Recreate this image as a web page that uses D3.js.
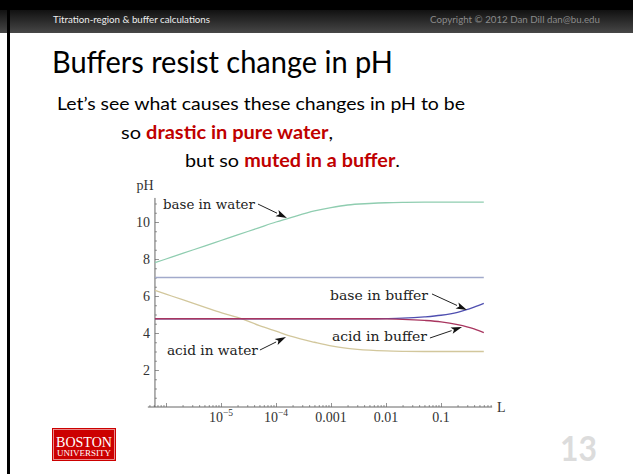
<!DOCTYPE html>
<html><head><meta charset="utf-8">
<script src="https://cdn.jsdelivr.net/npm/d3@7"></script>
<style>html,body{margin:0;padding:0;background:#fff;overflow:hidden}</style>
</head><body>
<svg id="c" width="633" height="474" xmlns="http://www.w3.org/2000/svg"></svg>
<script>
// ---- data ----
const volumes      = [6.3e-7, 1e-6, 2e-6, 5e-6, 1e-5, 2e-5, 5e-5, 1e-4, 2e-4, 5e-4, 1e-3, 2e-3, 5e-3, 1e-2, 2e-2, 5e-2, 0.1, 0.2, 0.4, 0.6];
const baseInWater  = [7.8, 8.0, 8.3, 8.7, 9.0, 9.3, 9.7, 10.0, 10.27, 10.6, 10.78, 10.92, 11.0, 11.04, 11.06, 11.07, 11.07, 11.07, 11.07, 11.07];
const acidInWater  = [6.3, 6.1, 5.8, 5.4, 5.1, 4.85, 4.4, 4.1, 3.8, 3.5, 3.3, 3.17, 3.07, 3.03, 3.01, 3.0, 3.0, 3.0, 3.0, 3.0];
const baseInBuffer = [4.77, 4.77, 4.77, 4.77, 4.77, 4.77, 4.77, 4.77, 4.77, 4.77, 4.77, 4.77, 4.77, 4.78, 4.80, 4.87, 4.96, 5.12, 5.40, 5.60];
const acidInBuffer = [4.77, 4.77, 4.77, 4.77, 4.77, 4.77, 4.77, 4.77, 4.77, 4.77, 4.77, 4.77, 4.77, 4.76, 4.74, 4.68, 4.60, 4.45, 4.22, 4.02];
const neutralPH    = [7, 7];
const neutralVols  = [6.3e-7, 0.6];
const yTickValues  = [2, 4, 6, 8, 10];
const xLabelValues = [1e-5, 1e-4, 1e-3, 1e-2, 0.1];
const xTickLabels  = [["10", "\u22125"], ["10", "\u22124"], ["0.001"], ["0.01"], ["0.1"]];
const annotations = [
  {text: "base in water",  L: 8.8e-7, pH: 10.7, L0: 4.7e-5, pH0: 10.97, L1: 1.58e-4, pH1: 10.22, w: 92},
  {text: "base in buffer", L: 9.6e-4, pH: 5.78, L0: 0.0686, pH0: 6.11,  L1: 0.297,   pH1: 5.24,  w: 98},
  {text: "acid in buffer", L: 1.04e-3, pH: 3.57, L0: 0.063, pH0: 3.73,  L1: 0.241,   pH1: 4.32,  w: 95},
  {text: "acid in water",  L: 1.04e-6, pH: 2.81, L0: 5.1e-5, pH0: 3.08, L1: 1.52e-4, pH1: 3.78,  w: 91}
];

const svg = d3.select("#c");

// ---- slide chrome ----
const defs = svg.append("defs");
const grad = defs.append("linearGradient").attr("id", "hdr").attr("x1", 0).attr("y1", 0).attr("x2", 0).attr("y2", 1);
grad.append("stop").attr("offset", "0%").attr("stop-color", "#111");
grad.append("stop").attr("offset", "100%").attr("stop-color", "#474747");
svg.append("rect").attr("x", 0).attr("y", 0).attr("width", 633).attr("height", 10).attr("fill", "#000");
svg.append("rect").attr("x", 0).attr("y", 10).attr("width", 633).attr("height", 23).attr("fill", "url(#hdr)");
svg.append("rect").attr("x", 7).attr("y", 0).attr("width", 3).attr("height", 474).attr("fill", "#000");

svg.append("text").attr("x", 53).attr("y", 23).attr("font-family", "Lato").attr("font-size", 10)
  .attr("fill", "#eee").attr("textLength", 157).attr("lengthAdjust", "spacingAndGlyphs")
  .text("Titration-region & buffer calculations");
svg.append("text").attr("x", 430).attr("y", 23).attr("font-family", "Lato").attr("font-size", 10)
  .attr("fill", "#8a8a8a").attr("textLength", 170).attr("lengthAdjust", "spacingAndGlyphs")
  .text("Copyright \u00A9 2012 Dan Dill dan@bu.edu");

svg.append("text").attr("x", 52).attr("y", 73).attr("font-family", "Lato").attr("font-size", 31)
  .attr("fill", "#000").attr("textLength", 341).attr("lengthAdjust", "spacingAndGlyphs")
  .text("Buffers resist change in pH");

svg.append("text").attr("x", 57).attr("y", 110).attr("font-family", "Lato").attr("font-size", 18)
  .attr("fill", "#000").attr("textLength", 408).attr("lengthAdjust", "spacingAndGlyphs")
  .text("Let\u2019s see what causes these changes in pH to be");

const l2 = svg.append("text").attr("x", 121).attr("y", 139).attr("font-family", "Lato").attr("font-size", 18)
  .attr("fill", "#000").attr("textLength", 212).attr("lengthAdjust", "spacingAndGlyphs");
l2.append("tspan").text("so ");
l2.append("tspan").attr("font-weight", "bold").attr("fill", "#c00000").text("drastic in pure water");
l2.append("tspan").text(",");

const l3 = svg.append("text").attr("x", 185).attr("y", 167).attr("font-family", "Lato").attr("font-size", 18)
  .attr("fill", "#000").attr("textLength", 215).attr("lengthAdjust", "spacingAndGlyphs");
l3.append("tspan").text("but so ");
l3.append("tspan").attr("font-weight", "bold").attr("fill", "#c00000").text("muted in a buffer");
l3.append("tspan").text(".");

// BU logo
svg.append("rect").attr("x", 52).attr("y", 428).attr("width", 64).attr("height", 33).attr("fill", "#cc0000");
svg.append("rect").attr("x", 53.5).attr("y", 429.5).attr("width", 61).attr("height", 30).attr("fill", "none")
  .attr("stroke", "#f2b0b0").attr("stroke-width", 0.8);
svg.append("text").attr("x", 56).attr("y", 447).attr("font-family", "Liberation Serif").attr("font-size", 14)
  .attr("fill", "#fff").attr("textLength", 56).attr("lengthAdjust", "spacingAndGlyphs").text("BOSTON");
svg.append("text").attr("x", 57).attr("y", 456).attr("font-family", "Liberation Serif").attr("font-size", 7.5)
  .attr("fill", "#fff").attr("textLength", 54).attr("lengthAdjust", "spacingAndGlyphs").text("UNIVERSITY");

svg.append("text").attr("x", 560).attr("y", 461).attr("font-family", "Lato").attr("font-weight", "bold")
  .attr("font-size", 34).attr("fill", "#dcdcdc").attr("textLength", 37).attr("lengthAdjust", "spacingAndGlyphs").text("13");

// ---- chart ----
const x = d3.scaleLog().domain([1e-5, 0.1]).range([221, 441]);
const y = d3.scaleLinear().domain([0, 10]).range([407, 222]);
const xAxisStart = Math.pow(10, -6.33), xAxisEnd = Math.pow(10, -0.07), yAxisTop = 11.3;
const serif = "DejaVu Serif";
const tickFont = "Liberation Serif";

const g = svg.append("g");

// axes lines
g.append("line").attr("x1", x(xAxisStart)).attr("x2", x(xAxisEnd)).attr("y1", y(0)).attr("y2", y(0))
  .attr("stroke", "#555").attr("stroke-width", 0.9);
g.append("line").attr("x1", x(6.3e-7)).attr("x2", x(6.3e-7)).attr("y1", y(0)).attr("y2", y(yAxisTop))
  .attr("stroke", "#555").attr("stroke-width", 0.9);

// x ticks
const majorX = [1e-6, 1e-5, 1e-4, 1e-3, 1e-2, 0.1];
const minorX = [];
[1e-7, 1e-6, 1e-5, 1e-4, 1e-3, 1e-2, 0.1].forEach(d => {
  for (let k = 2; k <= 9; k++) { const v = d * k; if (v >= xAxisStart && v <= xAxisEnd) minorX.push(v); }
});
const xMaj = g.append("g").attr("transform", `translate(0,${y(0)})`)
  .call(d3.axisBottom(x).tickValues(majorX).tickSize(-4).tickFormat(""));
const xMin = g.append("g").attr("transform", `translate(0,${y(0)})`)
  .call(d3.axisBottom(x).tickValues(minorX).tickSize(-2).tickFormat(""));
[xMaj, xMin].forEach(s => { s.select(".domain").remove(); s.selectAll("line").attr("stroke", "#666").attr("stroke-width", 0.7); });

// x labels
xLabelValues.forEach((v, i) => {
  const lab = xTickLabels[i];
  const t = g.append("text").attr("x", x(v)).attr("y", y(0) + 15).attr("text-anchor", "middle")
    .attr("font-family", tickFont).attr("font-size", 14).attr("fill", "#333");
  t.append("tspan").text(lab[0]);
  if (lab[1]) t.append("tspan").attr("dy", -6).attr("font-size", 9.5).text(lab[1]);
});

// y ticks
const minorY = [];
for (let v = 0.5; v <= yAxisTop; v += 0.5) if (!yTickValues.includes(v)) minorY.push(v);
const yMaj = g.append("g").attr("transform", `translate(${x(6.3e-7)},0)`)
  .call(d3.axisLeft(y).tickValues(yTickValues).tickSize(-4).tickPadding(5));
const yMin = g.append("g").attr("transform", `translate(${x(6.3e-7)},0)`)
  .call(d3.axisLeft(y).tickValues(minorY).tickSize(-2).tickFormat(""));
[yMaj, yMin].forEach(s => { s.select(".domain").remove(); s.selectAll("line").attr("stroke", "#666").attr("stroke-width", 0.7); });
yMaj.selectAll("text").attr("font-family", tickFont).attr("font-size", 14).attr("fill", "#333");

// axis titles
g.append("text").attr("x", 145).attr("y", 190).attr("text-anchor", "middle").attr("font-family", tickFont)
  .attr("font-size", 14).attr("fill", "#333").text("pH");
g.append("text").attr("x", 497).attr("y", 412).attr("font-family", tickFont)
  .attr("font-size", 14).attr("fill", "#333").text("L");

// curves
const line = d3.line().x(d => x(d[0])).y(d => y(d[1])).curve(d3.curveMonotoneX);
const series = [
  {vals: neutralPH, vols: neutralVols, color: "#a2aacb"},
  {vals: acidInWater, vols: volumes, color: "#d2c79c"},
  {vals: baseInWater, vols: volumes, color: "#8fcdb0"},
  {vals: baseInBuffer, vols: volumes, color: "#4f4fb0"},
  {vals: acidInBuffer, vols: volumes, color: "#a8355f"}
];
series.forEach(s => {
  g.append("path").datum(s.vols.map((v, i) => [v, s.vals[i]]))
    .attr("d", line).attr("fill", "none").attr("stroke", s.color).attr("stroke-width", 1.3);
});

// annotations
annotations.forEach(a => {
  g.append("text").attr("x", x(a.L)).attr("y", y(a.pH)).attr("font-family", serif).attr("font-size", 13.5)
    .attr("fill", "#222").attr("textLength", a.w).attr("lengthAdjust", "spacingAndGlyphs").text(a.text);
  const x0 = x(a.L0), y0 = y(a.pH0), x1 = x(a.L1), y1 = y(a.pH1);
  const ang = Math.atan2(y1 - y0, x1 - x0);
  const len = 11, hw = 3.4;
  const bx = x1 - len * Math.cos(ang), by = y1 - len * Math.sin(ang);
  g.append("line").attr("x1", x0).attr("y1", y0).attr("x2", bx).attr("y2", by)
    .attr("stroke", "#222").attr("stroke-width", 1);
  const px = -Math.sin(ang), py = Math.cos(ang);
  const nx = x1 - (len - 2.5) * Math.cos(ang), ny = y1 - (len - 2.5) * Math.sin(ang);
  g.append("path").attr("d", `M${x1},${y1}L${bx + px * hw},${by + py * hw}L${nx},${ny}L${bx - px * hw},${by - py * hw}Z`)
    .attr("fill", "#111");
});
</script>
</body></html>
